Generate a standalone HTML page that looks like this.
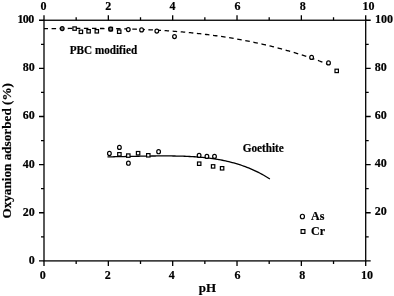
<!DOCTYPE html>
<html><head><meta charset="utf-8"><style>
html,body{margin:0;padding:0;background:#fff;width:394px;height:296px;overflow:hidden}
svg{display:block;will-change:transform}
</style></head><body>
<svg width="394" height="296" viewBox="0 0 394 296"><rect x="44.0" y="20.25" width="321.7" height="240.64999999999998" fill="none" stroke="#000" stroke-width="1.3"/>
<path d="M44.00 260.9v5M44.00 20.25v-5M76.17 260.9v3M76.17 20.25v-3M108.34 260.9v5M108.34 20.25v-5M140.51 260.9v3M140.51 20.25v-3M172.68 260.9v5M172.68 20.25v-5M204.85 260.9v3M204.85 20.25v-3M237.02 260.9v5M237.02 20.25v-5M269.19 260.9v3M269.19 20.25v-3M301.36 260.9v5M301.36 20.25v-5M333.53 260.9v3M333.53 20.25v-3M365.70 260.9v5M365.70 20.25v-5M44.0 260.90h-5M365.7 260.90h5M44.0 236.83h-3M365.7 236.83h3M44.0 212.77h-5M365.7 212.77h5M44.0 188.70h-3M365.7 188.70h3M44.0 164.64h-5M365.7 164.64h5M44.0 140.57h-3M365.7 140.57h3M44.0 116.51h-5M365.7 116.51h5M44.0 92.44h-3M365.7 92.44h3M44.0 68.38h-5M365.7 68.38h5M44.0 44.32h-3M365.7 44.32h3M44.0 20.25h-5M365.7 20.25h5" stroke="#000" stroke-width="1.3" fill="none"/>
<g font-family='"Liberation Serif", serif' font-weight="bold" font-size="12" stroke="#000" stroke-width="0.2"><text x="42.70" y="278.5" text-anchor="middle">0</text><text x="43.60" y="10.1" text-anchor="middle">0</text><text x="107.84" y="278.5" text-anchor="middle">2</text><text x="108.34" y="10.1" text-anchor="middle">2</text><text x="171.68" y="278.5" text-anchor="middle">4</text><text x="172.38" y="10.1" text-anchor="middle">4</text><text x="237.52" y="278.5" text-anchor="middle">6</text><text x="237.62" y="10.1" text-anchor="middle">6</text><text x="302.36" y="278.5" text-anchor="middle">8</text><text x="302.66" y="10.1" text-anchor="middle">8</text><text x="366.90" y="278.5" text-anchor="middle">10</text><text x="368.60" y="10.1" text-anchor="middle">10</text><text x="34.7" y="264" text-anchor="end">0</text><text x="34.7" y="216" text-anchor="end">20</text><text x="374.8" y="215" text-anchor="start">20</text><text x="34.7" y="168" text-anchor="end">40</text><text x="374.8" y="167" text-anchor="start">40</text><text x="34.7" y="119" text-anchor="end">60</text><text x="374.8" y="119" text-anchor="start">60</text><text x="34.7" y="71" text-anchor="end">80</text><text x="374.8" y="71" text-anchor="start">80</text><text x="33.6" y="23" text-anchor="end" letter-spacing="-0.6">100</text><text x="374.9" y="23" text-anchor="start">100</text></g>
<path d="M44.00 28.64 L45.34 28.63 L46.69 28.62 L48.03 28.61M51.60 28.58 L53.10 28.57 L54.60 28.56 L56.10 28.55M59.67 28.52 L61.17 28.51 L62.67 28.50 L64.17 28.50M67.74 28.48 L69.24 28.47 L70.74 28.46 L72.24 28.46M75.81 28.44 L77.31 28.44 L78.81 28.44 L80.31 28.43M83.88 28.43 L85.38 28.43 L86.88 28.44 L88.38 28.44M91.95 28.45 L93.45 28.45 L94.95 28.46 L96.45 28.47M100.02 28.50 L101.52 28.51 L103.02 28.52 L104.52 28.54M108.09 28.58 L109.59 28.60 L111.09 28.62 L112.59 28.64M116.16 28.70 L117.66 28.73 L119.16 28.76 L120.66 28.79M124.23 28.88 L125.73 28.91 L127.23 28.95 L128.73 28.99M132.30 29.10 L133.80 29.15 L135.30 29.20 L136.80 29.25M140.37 29.38 L141.87 29.44 L143.37 29.50 L144.87 29.57M148.44 29.73 L149.94 29.80 L151.44 29.87 L152.94 29.95M156.51 30.14 L158.01 30.22 L159.51 30.31 L161.01 30.40M164.58 30.62 L166.08 30.72 L167.58 30.82 L169.08 30.92M172.65 31.18 L174.15 31.30 L175.65 31.41 L177.15 31.53M180.72 31.83 L182.22 31.96 L183.72 32.09 L185.22 32.22M188.79 32.56 L190.29 32.71 L191.79 32.85 L193.29 33.01M196.86 33.38 L198.36 33.55 L199.86 33.72 L201.36 33.89M204.93 34.31 L206.43 34.49 L207.93 34.68 L209.43 34.87M213.00 35.34 L214.50 35.54 L216.00 35.75 L217.50 35.96M221.07 36.47 L222.57 36.70 L224.07 36.92 L225.57 37.16M229.14 37.72 L230.64 37.97 L232.14 38.22 L233.64 38.47M237.21 39.09 L238.71 39.36 L240.21 39.63 L241.71 39.91M245.28 40.58 L246.78 40.88 L248.28 41.17 L249.78 41.47M253.35 42.21 L254.85 42.52 L256.35 42.84 L257.85 43.17M261.42 43.96 L262.92 44.30 L264.42 44.65 L265.92 45.00M269.49 45.86 L270.99 46.23 L272.49 46.60 L273.99 46.98M277.56 47.90 L279.06 48.30 L280.56 48.70 L282.06 49.10M285.63 50.09 L287.13 50.51 L288.63 50.94 L290.13 51.38M293.70 52.44 L295.20 52.89 L296.70 53.35 L298.20 53.81M301.77 54.94 L303.27 55.42 L304.77 55.91 L306.27 56.41M309.84 57.61 L311.34 58.13 L312.84 58.65 L314.34 59.17M317.91 60.45 L319.41 61.00 L320.91 61.55 L322.41 62.11M325.98 63.47 L326.82 63.79 L327.66 64.12 L328.50 64.45" fill="none" stroke="#000" stroke-width="1.3"/>
<path d="M107.50 156.89 L109.14 156.86 L110.78 156.82 L112.42 156.78 L114.06 156.75 L115.70 156.71 L117.34 156.68 L118.98 156.64 L120.62 156.60 L122.26 156.57 L123.90 156.53 L125.54 156.50 L127.18 156.46 L128.83 156.43 L130.47 156.40 L132.11 156.36 L133.75 156.33 L135.39 156.30 L137.03 156.26 L138.67 156.23 L140.31 156.20 L141.95 156.17 L143.59 156.14 L145.23 156.11 L146.87 156.09 L148.51 156.06 L150.15 156.04 L151.79 156.02 L153.43 156.00 L155.07 155.98 L156.71 155.96 L158.35 155.95 L159.99 155.94 L161.63 155.93 L163.27 155.93 L164.91 155.93 L166.55 155.93 L168.19 155.94 L169.84 155.95 L171.48 155.96 L173.12 155.98 L174.76 156.00 L176.40 156.03 L178.04 156.06 L179.68 156.10 L181.32 156.15 L182.96 156.20 L184.60 156.26 L186.24 156.32 L187.88 156.40 L189.52 156.48 L191.16 156.56 L192.80 156.66 L194.44 156.76 L196.08 156.88 L197.72 157.00 L199.36 157.13 L201.00 157.28 L202.64 157.43 L204.28 157.59 L205.92 157.77 L207.56 157.96 L209.21 158.16 L210.85 158.37 L212.49 158.60 L214.13 158.84 L215.77 159.09 L217.41 159.36 L219.05 159.64 L220.69 159.94 L222.33 160.26 L223.97 160.59 L225.61 160.94 L227.25 161.31 L228.89 161.69 L230.53 162.10 L232.17 162.52 L233.81 162.97 L235.45 163.43 L237.09 163.91 L238.73 164.42 L240.37 164.95 L242.01 165.50 L243.65 166.08 L245.29 166.68 L246.93 167.30 L248.57 167.95 L250.22 168.63 L251.86 169.33 L253.50 170.06 L255.14 170.81 L256.78 171.60 L258.42 172.42 L260.06 173.26 L261.70 174.14 L263.34 175.04 L264.98 175.98 L266.62 176.96 L268.26 177.96 L269.90 179.00" fill="none" stroke="#000" stroke-width="1.3"/>
<g fill="#fff" stroke="#000" stroke-width="1.2"><rect x="72.90" y="26.90" width="3.40" height="3.40"/><rect x="79.20" y="30.10" width="3.40" height="3.40"/><rect x="86.90" y="29.60" width="3.40" height="3.40"/><rect x="95.10" y="29.60" width="3.40" height="3.40"/><rect x="109.10" y="27.40" width="3.40" height="3.40"/><rect x="117.50" y="30.00" width="3.40" height="3.40"/><rect x="335.00" y="69.20" width="3.40" height="3.40"/><rect x="117.70" y="152.60" width="3.40" height="3.40"/><rect x="126.60" y="153.90" width="3.40" height="3.40"/><rect x="136.40" y="151.50" width="3.40" height="3.40"/><rect x="146.60" y="153.60" width="3.40" height="3.40"/><rect x="197.50" y="162.00" width="3.40" height="3.40"/><rect x="211.40" y="164.70" width="3.40" height="3.40"/><rect x="220.40" y="166.60" width="3.40" height="3.40"/><rect x="301.10" y="229.60" width="3.80" height="3.80"/><ellipse cx="62.2" cy="28.6" rx="1.85" ry="2.05" fill="#777"/><ellipse cx="110.7" cy="29.1" rx="1.85" ry="2.05" fill="#777"/><ellipse cx="128.3" cy="29.6" rx="1.85" ry="2.05"/><ellipse cx="141.6" cy="29.9" rx="1.85" ry="2.05"/><ellipse cx="156.8" cy="31.1" rx="1.85" ry="2.05"/><ellipse cx="174.5" cy="36.6" rx="1.85" ry="2.05"/><ellipse cx="311.6" cy="57.4" rx="1.85" ry="2.05"/><ellipse cx="328.5" cy="62.9" rx="1.85" ry="2.05"/><ellipse cx="109.4" cy="153.5" rx="1.85" ry="2.05"/><ellipse cx="119.4" cy="147.4" rx="1.85" ry="2.05"/><ellipse cx="128.4" cy="163.2" rx="1.85" ry="2.05"/><ellipse cx="158.6" cy="151.7" rx="1.85" ry="2.05"/><ellipse cx="199.1" cy="155.4" rx="1.85" ry="2.05"/><ellipse cx="206.9" cy="156.4" rx="1.85" ry="2.05"/><ellipse cx="214.5" cy="156.4" rx="1.85" ry="2.05"/><ellipse cx="302.4" cy="216.5" rx="2.05" ry="2.25"/></g>
<g font-family='"Liberation Serif", serif' font-weight="bold" stroke="#000" stroke-width="0.2">
<text x="69.8" y="54" font-size="12" textLength="67.3" lengthAdjust="spacingAndGlyphs">PBC modified</text>
<text x="242.7" y="152" font-size="11.6" textLength="41" lengthAdjust="spacingAndGlyphs">Goethite</text>
<text x="311" y="220" font-size="12">As</text>
<text x="311" y="235" font-size="12">Cr</text>
<text x="207.5" y="292.3" font-size="13" text-anchor="middle">pH</text>
<text transform="translate(10.7 150.8) rotate(-90)" font-size="13.2" text-anchor="middle">Oxyanion adsorbed (%)</text>
</g></svg>
</body></html>
